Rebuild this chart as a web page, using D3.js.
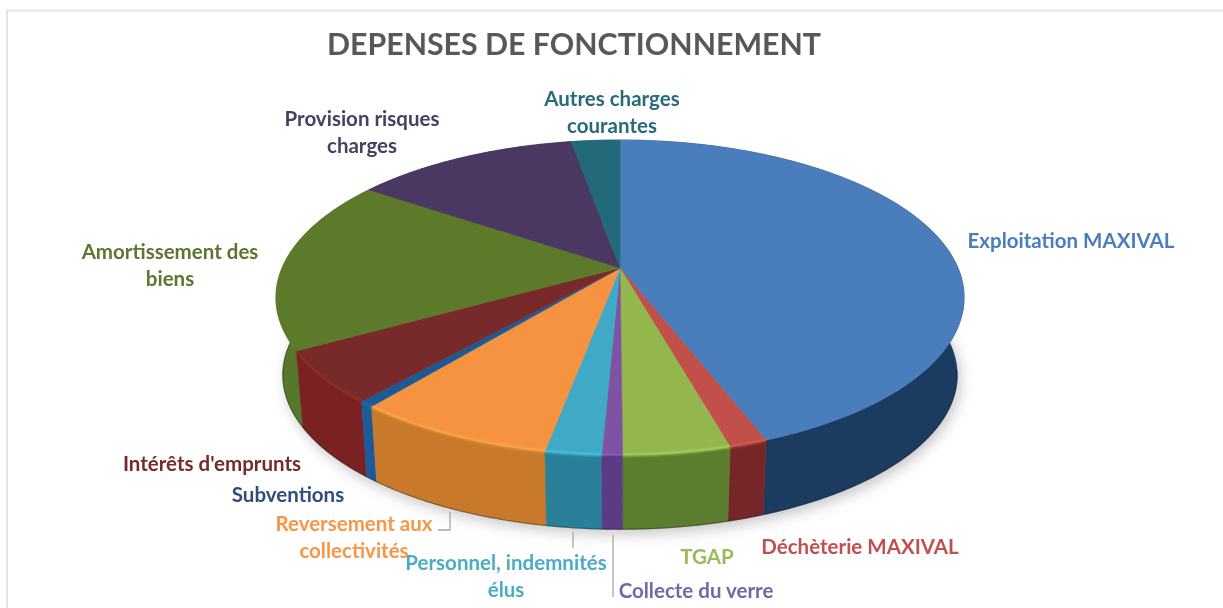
<!DOCTYPE html>
<html><head><meta charset="utf-8">
<script src="https://cdn.jsdelivr.net/npm/d3@7"></script>
<style>html,body{margin:0;padding:0;background:#fff;overflow:hidden}svg{display:block}</style>
</head><body><svg id="c" width="1223" height="608"></svg>
<script>
const categories=["Exploitation MAXIVAL","Déchèterie MAXIVAL","TGAP","Collecte du verre","Personnel, indemnités élus","Reversement aux collectivités","Subventions","Intérêts d'emprunts","Amortissement des biens","Provision risques charges","Autres charges courantes"];
const values=[44.2,1.5,4.2,0.8,2.2,7.9,0.6,5.35,17.9,12.6,2.75];
const topColors=["#4a7dbb","#c24f49","#93b74e","#7f52a3","#3fa9c6","#f6933f","#1f5a96","#782a29","#5d7a2c","#4b3862","#21697a"];
const sideColors=["#1e3a60","#762826","#5c7c2e","#5b3a86","#2a8098","#c87a2a","#1d5a98","#7a2024","#54782a","#3c2c50","#1a5060"];
const labelColors=["#4a7ebb","#c0504d","#9bbb59","#7566a8","#4bacc6","#f79646","#2f4d7e","#772c2a","#5f7530","#46405f","#276a7c"];
const labelLines=[["Exploitation MAXIVAL"],["Déchèterie MAXIVAL"],["TGAP"],["Collecte du verre"],["Personnel, indemnités","élus"],["Reversement aux","collectivités"],["Subventions"],["Intérêts d'emprunts"],["Amortissement des","biens"],["Provision risques","charges"],["Autres charges","courantes"]];
const labelX=[1071,860,707,696,506,354,288,212,170,362,612];
const labelY=[240,546,556,590,562,523,494,463,251,118,98];
const titleText="DEPENSES DE FONCTIONNEMENT";

const svg=d3.select("#c");
const defs=svg.append("defs");
defs.append("filter").attr("id","sh").attr("x","-20%").attr("y","-20%").attr("width","140%").attr("height","140%")
  .append("feGaussianBlur").attr("stdDeviation",7);
defs.append("filter").attr("id","soft").attr("x","-5%").attr("y","-50%").attr("width","110%").attr("height","200%")
  .append("feGaussianBlur").attr("stdDeviation",1.1);
defs.append("filter").attr("id","t").append("feGaussianBlur").attr("stdDeviation",0.4);

// frame
svg.append("path").attr("d","M7,608V10.5H1223").attr("fill","none").attr("stroke","#e4e4e4").attr("stroke-width",2);

// perspective projection of a disc
const cx=620,topApexY=268,a=338,b=152,k=0.1873,depth=78,shrink=0.98;
function proj(theta,level){
  const u=Math.sin(theta),v=-Math.cos(theta),w=1-k*v;
  const s=level?shrink:1;
  return [cx+s*a*u/w, topApexY+(level?depth:0)+s*b*v/w];
}
const pie=d3.pie().sort(null).value(d=>d)(values);
const line=d3.line();
const rim=(t0,t1,level)=>{const n=Math.max(2,Math.ceil((t1-t0)/0.01));return d3.range(n+1).map(i=>proj(t0+(t1-t0)*i/n,level));};

// soft shadow
svg.append("path").attr("d",line(rim(0,2*Math.PI,1).map(p=>[p[0]+3,p[1]+5]))+"Z").attr("fill","#777").attr("opacity",.42).attr("filter","url(#sh)");

const chart=svg.append("g").attr("filter","url(#t)");
// side wall, far slices first
const order=d3.range(pie.length).sort((i,j)=>Math.abs((pie[j].startAngle+pie[j].endAngle)/2-Math.PI)-Math.abs((pie[i].startAngle+pie[i].endAngle)/2-Math.PI));
order.forEach(i=>{
  const d=pie[i];
  const pts=rim(d.startAngle,d.endAngle,0).concat(rim(d.startAngle,d.endAngle,1).reverse());
  chart.append("path").attr("d",line(pts)+"Z").attr("fill",sideColors[i]).attr("stroke",sideColors[i]).attr("stroke-width",.5);
});
// dark lower edge
chart.append("path").attr("d",line(rim(Math.PI*0.55,Math.PI*1.6,1))).attr("fill","none").attr("stroke","#000").attr("stroke-opacity",.35).attr("stroke-width",1.2);
// top faces
pie.forEach((d,i)=>{
  const pts=[[cx,topApexY]].concat(rim(d.startAngle,d.endAngle,0));
  chart.append("path").attr("d",line(pts)+"Z").attr("fill",topColors[i]).attr("stroke",topColors[i]).attr("stroke-width",.5);
});
// bevel highlight on the front rim
pie.forEach((d,i)=>{
  if(d.endAngle<Math.PI*0.9||d.startAngle>Math.PI*1.3) return;
  chart.append("path").attr("d",line(rim(d.startAngle,d.endAngle,0))).attr("fill","none")
    .attr("stroke",d3.color(topColors[i]).brighter(.55)).attr("stroke-opacity",.75).attr("stroke-width",2.4).attr("filter","url(#soft)");
});

// leader lines
const leaders=[[[573,532],[573,548]],[[613,535],[613,597]],[[450,512],[450,530],[438,530]]];
leaders.forEach(l=>svg.append("path").attr("d",line(l)).attr("fill","none").attr("stroke","#a6a6a6").attr("stroke-width",1.3));

const textG=svg.append("g").attr("filter","url(#t)");
// title
textG.append("text").attr("x",574).attr("y",43).attr("text-anchor","middle").attr("dominant-baseline","central")
  .attr("font-family","Lato, 'Open Sans', sans-serif").attr("font-weight",700).attr("font-size",30.3).attr("fill","#595959").text(titleText);

// labels
categories.forEach((c,i)=>{
  labelLines[i].forEach((t,j)=>{
    textG.append("text").attr("x",labelX[i]).attr("y",labelY[i]+j*27).attr("text-anchor","middle").attr("dominant-baseline","central")
      .attr("font-family","Lato, 'Open Sans', sans-serif").attr("font-weight",700).attr("font-size",20.5).attr("fill",labelColors[i]).text(t);
  });
});
</script></body></html>
